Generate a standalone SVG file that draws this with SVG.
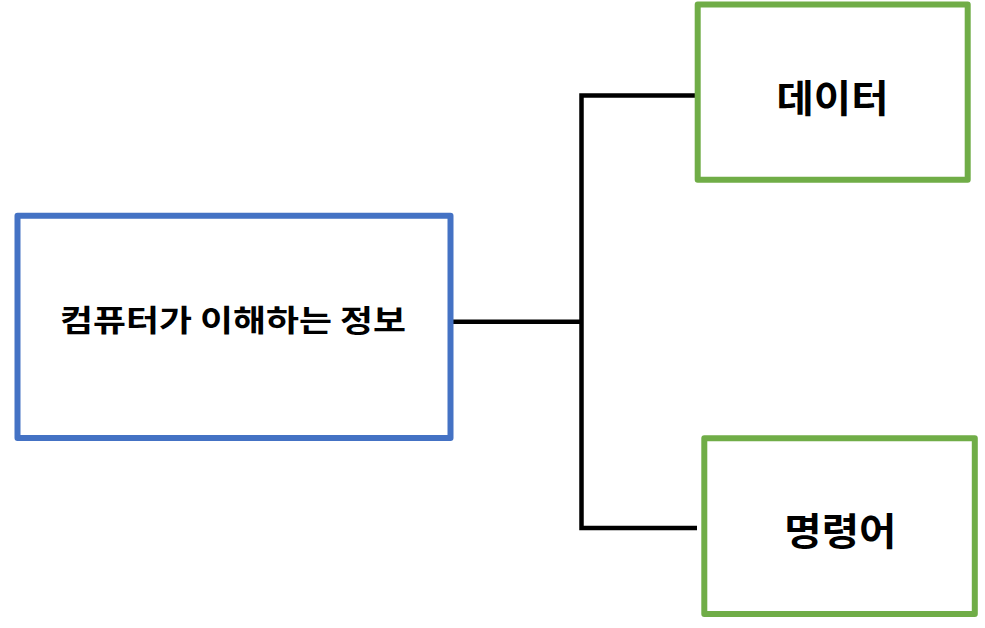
<svg xmlns="http://www.w3.org/2000/svg" width="985" height="628" viewBox="0 0 985 628">
<style>
.box{fill:#fff;stroke-width:6;stroke-linejoin:round}
.blue{stroke:#4472C4}
.green{stroke:#70AD47}
.lbl{font-family:"Noto Sans CJK KR","Noto Sans",sans-serif;font-weight:bold;fill:#000;text-anchor:middle}
.conn{fill:none;stroke:#000;stroke-width:4.5}
</style>
<rect width="985" height="628" fill="#fff"/>
<g id="connectors">
<line class="conn" x1="450.7" y1="321.7" x2="581.5" y2="321.7"/>
<polyline class="conn" points="697,95.5 581.5,95.5 581.5,528 697,528"/>
</g>
<g id="node-info">
<rect class="box blue" x="17.5" y="215.7" width="433" height="222.3"/>
<text class="lbl" x="233" y="330.5" font-size="30" textLength="346" lengthAdjust="spacingAndGlyphs">컴퓨터가 이해하는 정보</text>
</g>
<g id="node-data">
<rect class="box green" x="697.7" y="4.5" width="270" height="175.2"/>
<text class="lbl" x="832.5" y="112" font-size="38" textLength="112" lengthAdjust="spacingAndGlyphs">데이터</text>
</g>
<g id="node-instruction">
<rect class="box green" x="704.3" y="438.3" width="270.5" height="175.7"/>
<text class="lbl" x="840.3" y="545" font-size="38" textLength="112" lengthAdjust="spacingAndGlyphs">명령어</text>
</g>
</svg>
